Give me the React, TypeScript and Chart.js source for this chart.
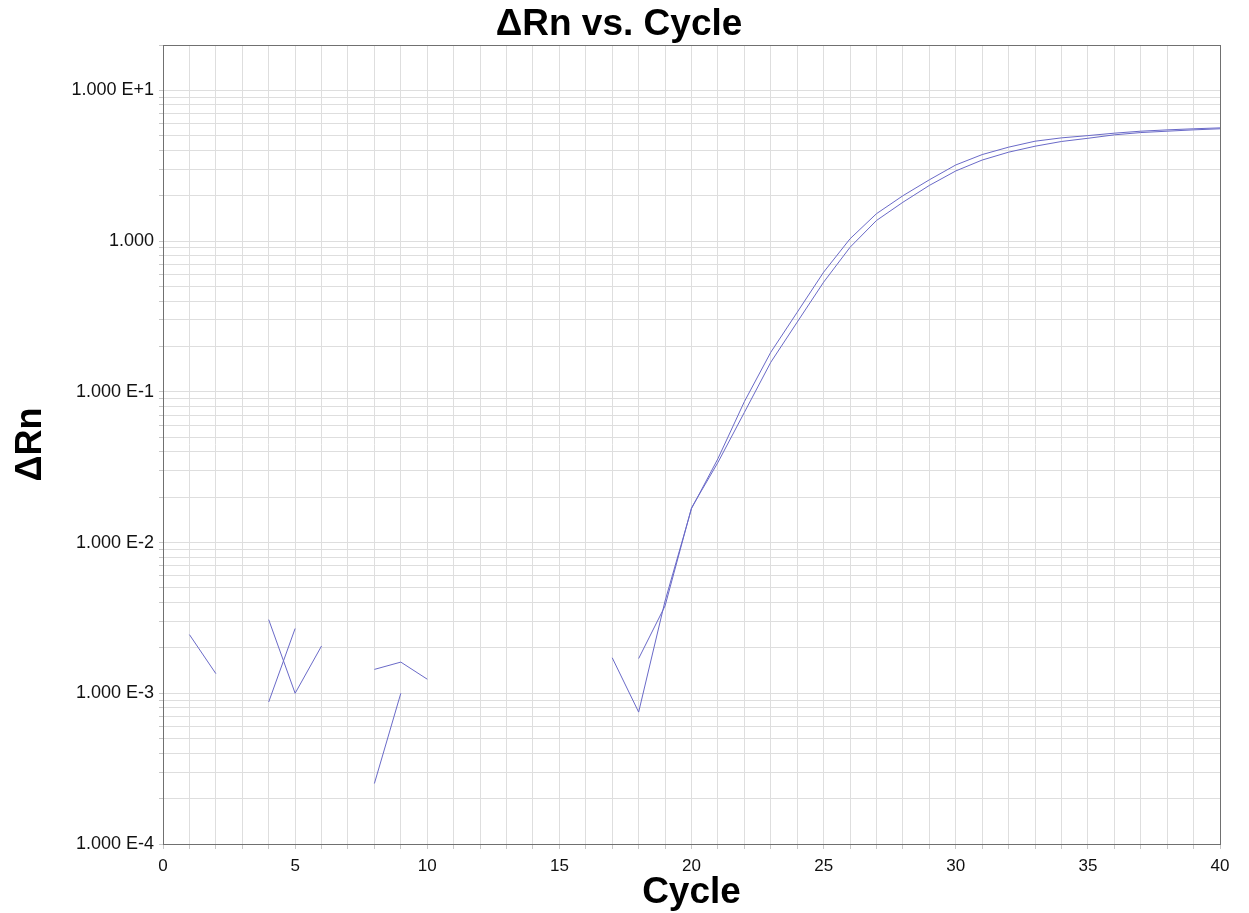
import React, { useEffect, useRef } from 'react';
import { Chart, registerables } from 'chart.js';

Chart.register(...registerables);

// ---- data ----
const CYCLES = [1, 2, 3, 4, 5, 6, 7, 8, 9, 10, 11, 12, 13, 14, 15, 16, 17, 18, 19, 20,
  21, 22, 23, 24, 25, 26, 27, 28, 29, 30, 31, 32, 33, 34, 35, 36, 37, 38, 39, 40];

// ΔRn, well 1 (null = non-positive value, not drawn on the log axis)
const WELL_A: (number | null)[] = [
  0.00245, 0.00135, null, 0.00308, 0.00100, 0.00206, null, 0.00144, 0.00161, 0.00124,
  null, null, null, null, null, null, 0.00172, 0.00075, 0.0041, 0.0168,
  0.036, 0.086, 0.183, 0.337, 0.622, 1.036, 1.52, 2.0, 2.55, 3.2,
  3.75, 4.2, 4.6, 4.84, 5.01, 5.2, 5.36, 5.47, 5.56, 5.64,
];

// ΔRn, well 2
const WELL_B: (number | null)[] = [
  null, null, null, 0.000875, 0.00269, null, null, 0.000252, 0.00100, null,
  null, null, null, null, null, null, null, 0.00170, 0.0038, 0.0170,
  0.034, 0.073, 0.157, 0.29, 0.534, 0.91, 1.37, 1.81, 2.34, 2.92,
  3.45, 3.89, 4.26, 4.58, 4.81, 5.07, 5.25, 5.36, 5.47, 5.56,
];

const Y_DECADES = [1e-4, 1e-3, 1e-2, 1e-1, 1, 10];
const Y_DECADE_LABELS = ['1.000 E-4', '1.000 E-3', '1.000 E-2', '1.000 E-1', '1.000', '1.000 E+1'];
const Y_MINOR_STEPS = [1, 2, 3, 4, 5, 6, 7, 8, 9];
const Y_MIN = 1e-4;
const Y_MAX = 20;
const X_MIN = 0;
const X_MAX = 40;
const X_LABEL_EVERY = 5;

const TITLE = 'ΔRn vs. Cycle';
const X_TITLE = 'Cycle';
const Y_TITLE = 'ΔRn';

const FONT = "'Liberation Sans', Arial, Helvetica, sans-serif";
const LINE_COLOR = '#6a6ac8';
const GRID_COLOR = '#dedede';
const FRAME_COLOR = '#707070';

const framePlugin = {
  id: 'frame',
  beforeDraw(chart: any) {
    const { ctx } = chart;
    ctx.save();
    ctx.fillStyle = '#ffffff';
    ctx.fillRect(0, 0, chart.width, chart.height);
    ctx.restore();
  },
  beforeDatasetsDraw(chart: any) {
    const { ctx, chartArea: a } = chart;
    ctx.save();
    ctx.strokeStyle = FRAME_COLOR;
    ctx.lineWidth = 1;
    const l = Math.round(a.left) + 0.5;
    const t = Math.round(a.top) + 0.5;
    const r = Math.round(a.right) + 0.5;
    const b = Math.round(a.bottom) + 0.5;
    ctx.strokeRect(l, t, r - l, b - t);
    ctx.restore();
  },
};

export default function App() {
  const ref = useRef<HTMLCanvasElement | null>(null);

  useEffect(() => {
    if (!ref.current) return;
    const toPoints = (vals: (number | null)[]) =>
      CYCLES.map((c, i) => ({ x: c, y: vals[i] }));

    const chart = new Chart(ref.current, {
      type: 'line',
      data: {
        datasets: [
          {
            label: 'Well A',
            data: toPoints(WELL_A) as any,
            borderColor: LINE_COLOR,
            borderWidth: 1,
            pointRadius: 0,
            tension: 0,
            spanGaps: false,
            fill: false,
          },
          {
            label: 'Well B',
            data: toPoints(WELL_B) as any,
            borderColor: LINE_COLOR,
            borderWidth: 1,
            pointRadius: 0,
            tension: 0,
            spanGaps: false,
            fill: false,
          },
        ],
      },
      options: {
        animation: false,
        responsive: false,
        maintainAspectRatio: false,
        events: [],
        layout: { padding: { left: 18, right: 29, top: 0, bottom: 0 } },
        plugins: {
          legend: { display: false },
          tooltip: { enabled: false },
          title: {
            display: true,
            text: TITLE,
            color: '#000',
            font: { family: FONT, size: 37, weight: 'bold', lineHeight: 1.2 },
            padding: { top: 3, bottom: -2.4 },
          },
        },
        scales: {
          x: {
            type: 'linear',
            min: X_MIN,
            max: X_MAX,
            afterBuildTicks: (scale: any) => {
              scale.ticks = [X_MIN, ...CYCLES].map((v) => ({ value: v }));
            },
            afterFit: (scale: any) => {
              scale.height = 69;
            },
            ticks: {
              autoSkip: false,
              maxRotation: 0,
              minRotation: 0,
              padding: 7,
              color: '#111',
              font: { family: FONT, size: 17 },
              callback: (v: any) => (Number(v) % X_LABEL_EVERY === 0 ? String(v) : ''),
            },
            grid: {
              color: GRID_COLOR,
              lineWidth: 1,
              tickLength: 5,
              tickColor: '#c8c8c8',
            },
            border: { display: false },
            title: {
              display: true,
              text: X_TITLE,
              color: '#000',
              font: { family: FONT, size: 37, weight: 'bold', lineHeight: 1.1 },
              padding: { top: 0, bottom: 0 },
            },
          },
          y: {
            type: 'logarithmic',
            min: Y_MIN,
            max: Y_MAX,
            afterBuildTicks: (scale: any) => {
              const ticks: { value: number }[] = [];
              Y_DECADES.forEach((d) =>
                Y_MINOR_STEPS.forEach((m) => {
                  const v = d * m;
                  if (v <= Y_MAX * 1.000001) ticks.push({ value: v });
                })
              );
              scale.ticks = ticks;
            },
            afterFit: (scale: any) => {
              scale.width = 145;
            },
            ticks: {
              autoSkip: false,
              padding: 5,
              color: '#111',
              font: { family: FONT, size: 18 },
              callback: (v: any) => {
                const val = Number(v);
                const idx = Y_DECADES.findIndex((d) => Math.abs(val / d - 1) < 1e-6);
                return idx >= 0 ? Y_DECADE_LABELS[idx] : '';
              },
            },
            grid: {
              color: GRID_COLOR,
              lineWidth: 1,
              tickLength: 4,
              tickColor: '#c8c8c8',
            },
            border: { display: false },
            title: {
              display: true,
              text: Y_TITLE,
              color: '#000',
              font: { family: FONT, size: 36, weight: 'bold', lineHeight: 0.75 },
              padding: { top: 0, bottom: 0 },
            },
          },
        },
      } as any,
      plugins: [framePlugin],
    });
    return () => chart.destroy();
  }, []);

  return (
    <div style={{ position: 'fixed', left: 0, top: 0, width: 1249, height: 913, background: '#fff' }}>
      <canvas ref={ref} width={1249} height={913} style={{ display: 'block', width: 1249, height: 913 }} />
    </div>
  );
}
